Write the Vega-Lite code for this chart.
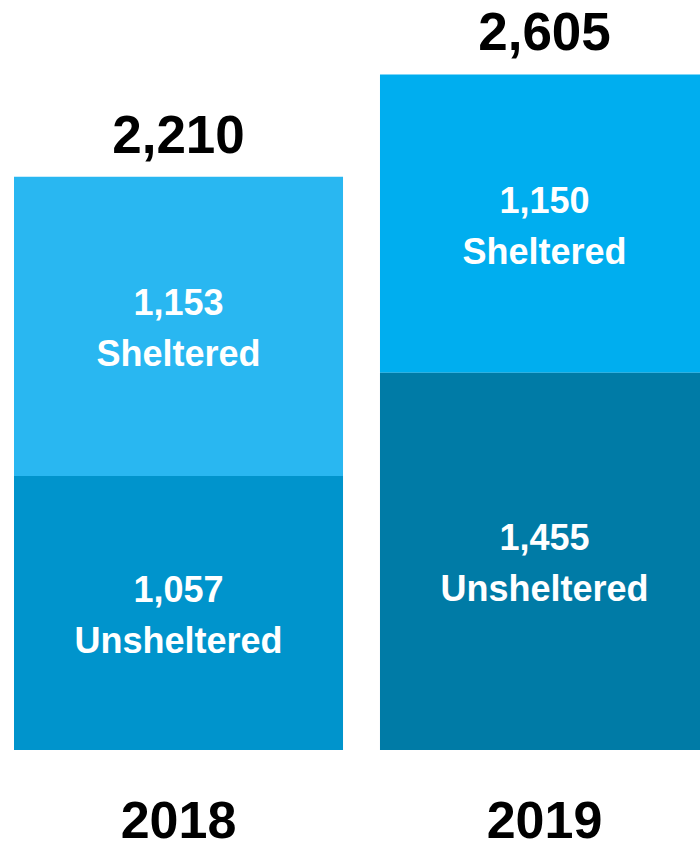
{
  "$schema": "https://vega.github.io/schema/vega-lite/v6.json",
  "width": 700,
  "height": 750,
  "autosize": {"type": "none"},
  "padding": {"left": 0, "top": 0, "right": 0, "bottom": 99},
  "background": "white",
  "config": {"view": {"stroke": null}, "font": "Liberation Sans"},
  "data": {
    "values": [
      {"year": "2018", "type": "Sheltered", "value": 1153},
      {"year": "2018", "type": "Unsheltered", "value": 1057},
      {"year": "2019", "type": "Sheltered", "value": 1150},
      {"year": "2019", "type": "Unsheltered", "value": 1455}
    ]
  },
  "encoding": {
    "x": {
      "field": "year",
      "type": "nominal",
      "title": null,
      "scale": {"range": [14, 709], "paddingInner": 0.101, "paddingOuter": 0},
      "axis": {
        "domain": false,
        "ticks": false,
        "labelAngle": 0,
        "labelPadding": 87,
        "labelBaseline": "alphabetic",
        "labelFont": "Liberation Sans",
        "labelFontSize": 52,
        "labelFontWeight": "bold",
        "labelColor": "black"
      }
    }
  },
  "layer": [
    {
      "transform": [
        {"stack": "value", "groupby": ["year"], "sort": [{"field": "type", "order": "descending"}], "as": ["y0", "y1"]},
        {"calculate": "datum.year + ' ' + datum.type", "as": "key"}
      ],
      "mark": {"type": "bar"},
      "encoding": {
        "y": {"field": "y1", "type": "quantitative", "scale": {"domain": [0, 2892], "nice": false, "zero": true}, "axis": null},
        "y2": {"field": "y0"},
        "color": {
          "field": "key",
          "type": "nominal",
          "legend": null,
          "scale": {
            "domain": ["2018 Sheltered", "2018 Unsheltered", "2019 Sheltered", "2019 Unsheltered"],
            "range": ["#29B7F1", "#0094CC", "#00AEEF", "#007BA6"]
          }
        }
      }
    },
    {
      "transform": [
        {"stack": "value", "groupby": ["year"], "sort": [{"field": "type", "order": "descending"}], "as": ["y0", "y1"]},
        {"calculate": "(datum.y0 + datum.y1) / 2", "as": "mid"},
        {"calculate": "[format(datum.value, ','), datum.type]", "as": "label"}
      ],
      "mark": {"type": "text", "font": "Liberation Sans", "fontSize": 36, "fontWeight": "bold", "color": "white", "baseline": "middle", "align": "center", "lineHeight": 51, "dy": -22},
      "encoding": {
        "y": {"field": "mid", "type": "quantitative", "scale": {"domain": [0, 2892], "nice": false, "zero": true}, "axis": null},
        "text": {"field": "label"}
      }
    },
    {
      "transform": [
        {"aggregate": [{"op": "sum", "field": "value", "as": "total"}], "groupby": ["year"]}
      ],
      "mark": {"type": "text", "font": "Liberation Sans", "fontSize": 53, "fontWeight": "bold", "color": "black", "baseline": "alphabetic", "align": "center", "dy": -24},
      "encoding": {
        "y": {"field": "total", "type": "quantitative", "scale": {"domain": [0, 2892], "nice": false, "zero": true}, "axis": null},
        "text": {"field": "total", "type": "quantitative", "format": ","}
      }
    }
  ]
}
